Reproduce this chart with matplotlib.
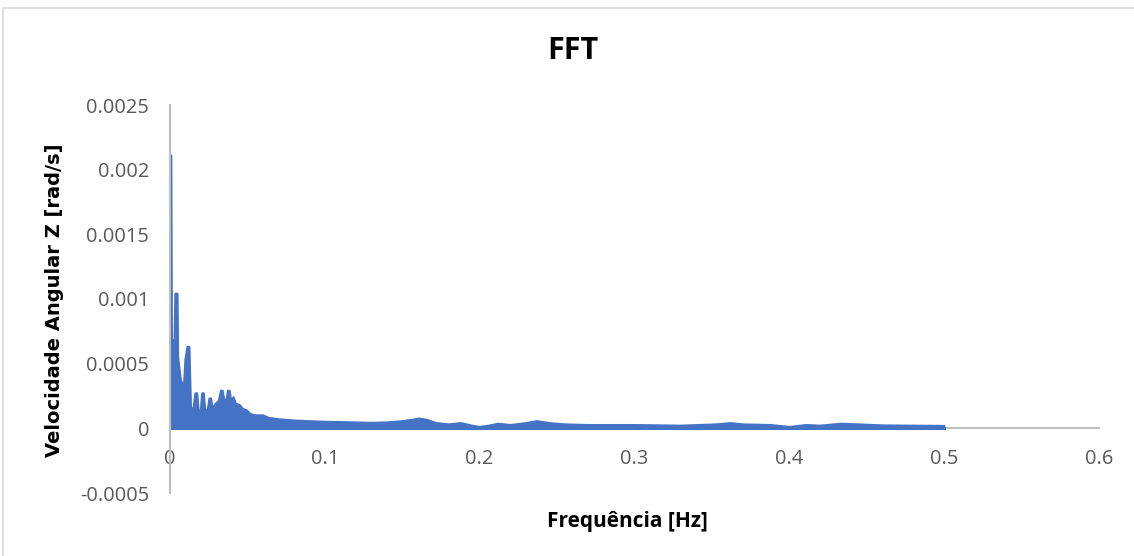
#!/usr/bin/env python3
import matplotlib
matplotlib.use('Agg')
import matplotlib.pyplot as plt
from matplotlib.patches import Rectangle

# FFT envelope: frequency [Hz] and the top of the dense band
freq = [0.0, 0.0008, 0.0012, 0.0030, 0.0035, 0.0048, 0.0052, 0.0070, 0.0090,
        0.0100, 0.0113, 0.0125, 0.0135, 0.0150, 0.0165, 0.0175, 0.0185, 0.0200,
        0.0208, 0.0218, 0.0228, 0.0245, 0.0255, 0.0265, 0.0275, 0.0295, 0.0315,
        0.0330, 0.0340, 0.0350, 0.0365, 0.0375, 0.0385, 0.0395, 0.0410, 0.0425,
        0.0450, 0.0470, 0.0495, 0.0520, 0.0550, 0.0600, 0.0640, 0.0700, 0.0800,
        0.0900, 0.1000, 0.1100, 0.1200, 0.1300, 0.1400, 0.1500, 0.1560, 0.1610,
        0.1660, 0.1720, 0.1800, 0.1880, 0.1950, 0.2000, 0.2060, 0.2120, 0.2200,
        0.2300, 0.2370, 0.2450, 0.2550, 0.2700, 0.3000, 0.3300, 0.3530, 0.3620,
        0.3700, 0.3880, 0.4000, 0.4110, 0.4200, 0.4330, 0.4450, 0.4600, 0.5000]

upper = [0.00211, 0.00211, 0.00068, 0.00068, 0.00104, 0.00104, 0.00055, 0.00037, 0.00032,
         0.00053, 0.00063, 0.00063, 0.00016, 0.00014, 0.00027, 0.00027, 0.00013, 0.00014,
         0.00027, 0.00027, 0.00013, 0.00015, 0.00023, 0.00023, 0.00015, 0.00019, 0.00021,
         0.00029, 0.00029, 0.00022, 0.00022, 0.00029, 0.00029, 0.00021, 0.00024, 0.00019,
         0.00018, 0.00015, 0.00014, 0.00011, 0.00010, 0.00010, 0.00008, 0.00007, 0.00006,
         0.000055, 0.00005, 0.000048, 0.000045, 0.000042, 0.000045, 0.000055, 0.000065, 0.000075,
         0.000065, 0.00004, 0.00003, 0.00004, 0.00002, 0.00001, 0.00002, 0.000035, 0.000025,
         0.00004, 0.000055, 0.00004, 0.00003, 0.000025, 0.000025, 0.00002, 0.00003, 0.00004,
         0.00003, 0.000025, 0.00001, 0.000025, 0.00002, 0.000035, 0.00003, 0.000022, 0.000018]

lower = [0.0] * len(freq)

x_ticks = [0, 0.1, 0.2, 0.3, 0.4, 0.5, 0.6]
x_labels = ['0', '0.1', '0.2', '0.3', '0.4', '0.5', '0.6']
y_ticks = [-0.0005, 0, 0.0005, 0.001, 0.0015, 0.002, 0.0025]
y_labels = ['-0.0005', '0', '0.0005', '0.001', '0.0015', '0.002', '0.0025']

blue = '#4472C4'
axis_gray = '#BFBFBF'
label_gray = '#595959'

plt.rcParams['font.family'] = ['Open Sans', 'DejaVu Sans']

fig = plt.figure(figsize=(11.34, 5.56), dpi=100)
ax = fig.add_axes([170 / 1134, 1 - 493 / 556, 929 / 1134, 388 / 556])

# chart border (Excel chart area)
fig.patches.append(Rectangle((3 / 1134, -0.5), 2.0, 1.5 - 8 / 556,
                             transform=fig.transFigure, fill=False,
                             edgecolor='#D9D9D9', linewidth=1.2))

ax.fill_between(freq, lower, upper, color=blue, linewidth=0)
ax.plot(freq, upper, color=blue, linewidth=1.6)
ax.plot(freq, lower, color=blue, linewidth=2.2)

ax.set_xlim(0, 0.6)
ax.set_ylim(-0.0005, 0.0025)

for side in ['top', 'right']:
    ax.spines[side].set_visible(False)
ax.spines['left'].set_color(axis_gray)
ax.spines['left'].set_linewidth(1.5)
ax.spines['bottom'].set_color(axis_gray)
ax.spines['bottom'].set_linewidth(1.5)
ax.spines['bottom'].set_position(('data', 0))
ax.spines['bottom'].set_zorder(0)

ax.set_xticks(x_ticks)
ax.set_xticklabels(x_labels)
ax.set_yticks(y_ticks)
ax.set_yticklabels(y_labels)
ax.tick_params(axis='x', length=0, pad=15, labelsize=14.4, labelcolor=label_gray)
ax.tick_params(axis='y', length=0, pad=15, labelsize=14.4, labelcolor=label_gray)

fig.text(573 / 1134, 1 - 51 / 556, 'FFT', ha='center', va='center',
         fontsize=22, fontweight='bold', color='black')
fig.text(627 / 1134, 1 - 522 / 556, 'Frequência [Hz]', ha='center', va='center',
         fontsize=15, fontweight='bold', color='black')
fig.text(55 / 1134, 1 - 300 / 556, 'Velocidade Angular Z [rad/s]', ha='center',
         va='center', rotation=90, fontsize=14, fontweight='bold', color='black',
         family=['DejaVu Sans'])

plt.savefig('out.png', dpi=100)
